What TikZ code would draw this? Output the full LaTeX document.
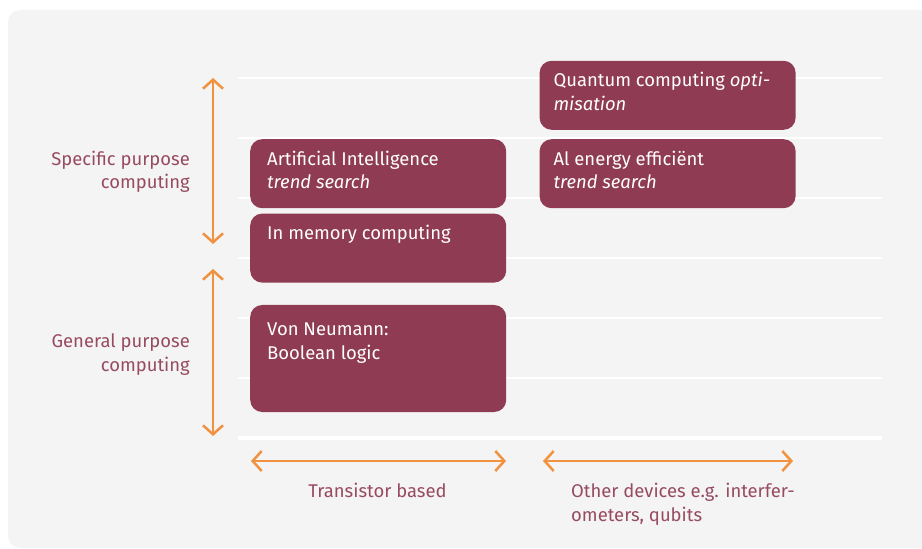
\documentclass[tikz,border=0pt]{standalone}
\usepackage{fontspec}
\setmainfont{Fira Sans}
\usetikzlibrary{arrows.meta}
\usetikzlibrary{positioning}
\definecolor{plum}{RGB}{142,59,83}
\definecolor{tangerine}{RGB}{240,146,64}
\definecolor{panel}{RGB}{244,244,244}

\begin{document}
\begin{tikzpicture}[
    x = 1bp, y = -1bp,
    >={Straight Barb[length=9bp, width=20bp]},
    block/.style = {
        rectangle, rounded corners = 12bp, fill = plum,
        minimum width = 256bp, inner sep = 0pt, anchor = north west
    },
    blocktext/.style = {
        text = white, align = left, inner sep = 0pt, anchor = base west,
        font = \fontsize{18.5}{24}\selectfont
    },
    sidelabel/.style = {
        text = plum!92!white, inner sep = 0pt,
        font = \fontsize{18.5}{24}\selectfont
    },
    span/.style = {tangerine, line width = 2.5bp, <->},
    rule/.style = {white, line width = 2bp},
  ]
  \clip (0,0) rectangle (922,549);
  \fill[panel, rounded corners = 12bp] (8,10) rectangle (960,548);

  \foreach \y in {78,138,...,378} {
    \draw[rule] (238,\y) -- (882,\y);
  }
  \draw[rule, line width = 4.5bp] (238,438) -- (882,438);

  \node[block, minimum height = 69bp] (ai) at (250,139) {};
  \node[block, minimum height = 69bp, below = 5bp of ai] (mem) {};
  \node[block, minimum height = 107bp, below = 22bp of mem] (vn) {};
  \node[block, minimum height = 69bp, right = 33bp of ai] (energy) {};
  \node[block, minimum height = 69bp, above = 9bp of energy] (quantum) {};

  % base of a two-line node sits on its second line
  \node[blocktext] (ai text) at ([shift={(17,50)}]ai.north west)
    {Artificial Intelligence\\\textit{trend search}};
  \node[blocktext] (mem text) at ([shift={(17,26)}]mem.north west)
    {In memory computing};
  \node[blocktext] (vn text) at ([shift={(17,55)}]vn.north west)
    {Von Neumann:\\Boolean logic};
  \node[blocktext] (energy text) at ([shift={(14,50)}]energy.north west)
    {Al energy efficiënt\\\textit{trend search}};
  \node[blocktext] (quantum text) at ([shift={(14,50)}]quantum.north west)
    {Quantum computing \textit{opti-}\\\textit{misation}};

  \node[sidelabel, align = right, anchor = base east] (specific) at (190,189)
    {Specific purpose\\computing};
  \node[sidelabel, align = right, anchor = base east] (general) at (190,371)
    {General purpose\\computing};
  \node[sidelabel, anchor = base] (transistor) at (377.5,497)
    {Transistor based};
  \node[sidelabel, align = left, anchor = base west] (other) at (571,521)
    {Other devices e.g. interfer-\\ometers, qubits};

  \coordinate (specific top) at (213,78);
  \coordinate (specific bottom) at (213,244);
  \coordinate (general top) at (213,269);
  \coordinate (general bottom) at (213,436);
  \coordinate (transistor left) at (251,461);
  \coordinate (transistor right) at (506,461);
  \coordinate (other left) at (543,461);
  \coordinate (other right) at (793,461);

  \draw[span] (specific top) -- (specific bottom);
  \draw[span] (general top) -- (general bottom);
  \draw[span] (transistor left) -- (transistor right);
  \draw[span] (other left) -- (other right);
\end{tikzpicture}
\end{document}
